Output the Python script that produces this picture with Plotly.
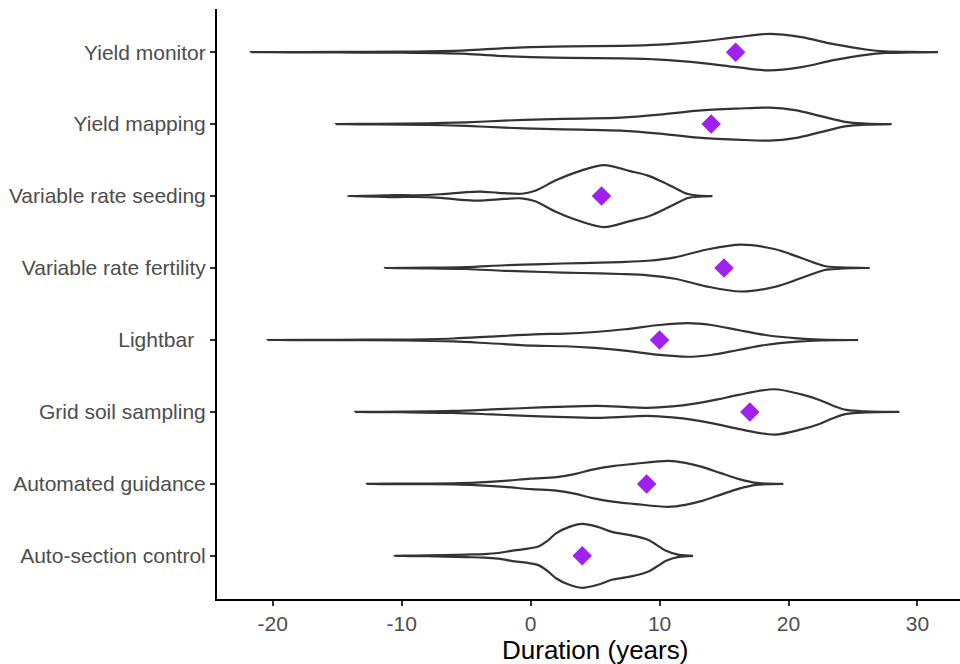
import plotly.graph_objects as go

# Categories, bottom to top
categories = ["Auto-section control", "Automated guidance", "Grid soil sampling",
              "Lightbar\u00a0\u00a0", "Variable rate fertility", "Variable rate seeding",
              "Yield mapping", "Yield monitor"]

# Mean duration per category (diamonds)
means = [4.0, 9.0, 17.0, 10.0, 15.0, 5.5, 14.0, 15.9]

# Violin outlines: duration grid and relative density (half-width)
dur_auto_section = [-10.6, -8, -6.7, -5, -3.6, -2.5, -1.5, 0.6, 1.3, 2, 3, 4, 5.2, 6.3, 8, 9.1, 10, 10.5, 11.5, 12.6]
dens_auto_section = [0, 0.4, 0.8, 1.3, 1.7, 2.8, 5, 9.3, 15, 22.7, 29, 32, 29, 24, 20, 16, 9, 5, 1, 0]

dur_guidance = [-12.7, -9, -6, -4.3, -2, 0, 2, 3.5, 4.8, 6.5, 8, 10.7, 12, 13.3, 14.7, 16.1, 17.5, 19.6]
dens_guidance = [0, 0.3, 0.6, 1.2, 3, 5.3, 6.7, 10, 14.3, 18, 20, 23, 21, 17, 11, 5, 1, 0]

dur_grid = [-13.6, -10, -6, -3, -0.8, 2, 5.2, 7.5, 9.1, 11, 12.6, 14.5, 16.1, 18.9, 21, 22.4, 23.5, 24.5, 26, 28.6]
dens_grid = [0, 0.3, 1, 2.5, 3.7, 5, 6, 4.8, 4, 5.5, 8, 12.5, 17, 22.7, 17.5, 12, 6, 2, 0.5, 0]

dur_lightbar = [-20.4, -15, -10, -6, -3.2, 0.3, 2.7, 5, 7.3, 10, 12.2, 14, 16.1, 18.2, 20.7, 22.5, 25.4]
dens_lightbar = [0, 0.2, 0.5, 1.5, 3.3, 5.7, 6.3, 8, 10.7, 15, 16.8, 15, 10, 5, 1.7, 0.5, 0]

dur_fertility = [-11.3, -8, -5, -2, 1, 4, 7, 9.1, 11.2, 13.6, 16.3, 18.9, 21, 22.8, 24, 26.3]
dens_fertility = [0, 0.3, 1, 2.8, 4, 5, 6, 7.3, 10.7, 18.3, 23.5, 19, 10, 2, 0.6, 0]

dur_seeding = [-14.2, -12, -10.5, -9, -7, -5, -3.9, -2.5, -0.7, 0.3, 2, 3.8, 5.7, 7.7, 9.1, 10.1, 11.2, 12.2, 13, 14.1]
dens_seeding = [0, 0.5, 1, 0.8, 1.8, 4, 4.5, 3.3, 2.3, 5, 16, 25, 31, 25, 20.5, 15, 8, 2, 0.5, 0]

dur_mapping = [-15.1, -12, -8, -5, -2, 1, 4, 7, 10, 13, 16, 18.5, 20.5, 22.5, 24.5, 26, 28]
dens_mapping = [0, 0.3, 0.8, 1.8, 3.5, 4.8, 5.5, 6.5, 9.5, 13.5, 15.5, 16.5, 14, 8, 2, 0.6, 0]

dur_monitor = [-21.7, -15, -10, -7, -5, -2, 0, 3, 7, 10, 13, 16, 18.5, 21, 23.5, 26, 27.5, 29.5, 31.6]
dens_monitor = [0, 0.3, 0.5, 1, 1.8, 4, 5, 5.8, 6.3, 7.5, 10.5, 15, 18.3, 15, 8, 2.7, 0.8, 0.3, 0]

x_ticks = [-20, -10, 0, 10, 20, 30]
x_title = "Duration (years)"

durations = [dur_auto_section, dur_guidance, dur_grid, dur_lightbar,
             dur_fertility, dur_seeding, dur_mapping, dur_monitor]
densities = [dens_auto_section, dens_guidance, dens_grid, dens_lightbar,
             dens_fertility, dens_seeding, dens_mapping, dens_monitor]

width_scale = 1 / 72.0  # relative density -> category-axis units

fig = go.Figure()
for i, (xs, ds) in enumerate(zip(durations, densities)):
    pos = i + 1
    px = list(xs) + list(xs[::-1])
    py = [pos + d * width_scale for d in ds] + [pos - d * width_scale for d in ds[::-1]]
    fig.add_trace(go.Scatter(
        x=px, y=py, mode="lines", fill="toself", fillcolor="white",
        line=dict(color="#333333", width=2.2, shape="spline", smoothing=0.9),
        hoverinfo="skip", showlegend=False))

fig.add_trace(go.Scatter(
    x=means, y=list(range(1, len(categories) + 1)), mode="markers",
    marker=dict(symbol="diamond", size=15, color="#A020F0", line=dict(width=0)),
    showlegend=False))

font_family = "Liberation Sans, Arial, sans-serif"
fig.update_layout(
    width=960, height=664,
    margin=dict(l=217, r=0, t=9, b=65),
    plot_bgcolor="white", paper_bgcolor="white",
    font=dict(family=font_family, color="#4D4D4D", size=21),
    xaxis=dict(range=[-24.32, 33.30], tickvals=x_ticks, ticktext=[str(v) for v in x_ticks],
               showgrid=False, zeroline=False, showline=True, linecolor="black", linewidth=2,
               ticks="outside", ticklen=5, tickwidth=1.5, tickcolor="#333333",
               automargin=False,
               tickfont=dict(size=21, color="#4D4D4D", family=font_family)),
    yaxis=dict(range=[0.4, 8.6], tickvals=list(range(1, len(categories) + 1)), ticktext=categories,
               showgrid=False, zeroline=False, showline=True, linecolor="black", linewidth=2,
               ticks="outside", ticklen=5, tickwidth=1.5, tickcolor="#333333",
               automargin=False,
               tickfont=dict(size=21, color="#4D4D4D", family=font_family)),
    annotations=[dict(text=x_title, xref="paper", yref="paper", x=0.5087, y=0,
                      xanchor="center", yanchor="middle", yshift=-51, showarrow=False,
                      font=dict(size=26, color="black", family=font_family))],
)

fig.write_html("out.html", config={"displayModeBar": False},
               post_script="document.body.style.margin='0';document.body.style.padding='0';")
